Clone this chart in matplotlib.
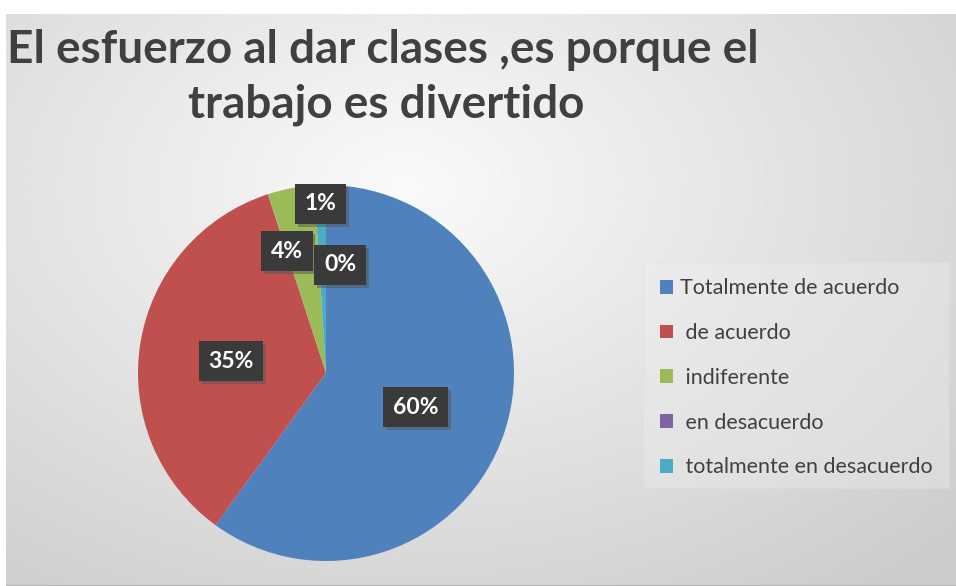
import numpy as np
import matplotlib
matplotlib.use("Agg")
import matplotlib.pyplot as plt
import matplotlib.patheffects as pe
from matplotlib.patches import Rectangle

plt.rcParams['font.family'] = ['Lato', 'DejaVu Sans']

# datos
categorias = ['Totalmente de acuerdo', ' de acuerdo', ' indiferente',
              ' en desacuerdo', ' totalmente en desacuerdo']
valores = [60, 35, 4, 0, 1]
etiquetas = ['60%', '35%', '4%', '0%', '1%']
colores = ['#4f81bd', '#c0504d', '#9bbb59', '#8064a2', '#4bacc6']

W, H = 956, 586
fig = plt.figure(figsize=(W / 100, H / 100), dpi=100)
fig.patch.set_facecolor('white')

# fondo con degradado radial
bg = fig.add_axes([6 / W, 0, 1 - 6 / W, (H - 14) / H])
yy, xx = np.mgrid[0:1:300j, 0:1:500j]
d = np.sqrt(((xx - 0.42) / 0.8) ** 2 + ((yy - 0.30) / 0.9) ** 2)
g = 0.98 - 0.18 * np.clip(d, 0, 1)
bg.imshow(g, cmap='gray', vmin=0, vmax=1, aspect='auto', extent=[0, 1, 1, 0])
bg.axhline(1, color='#b4b4b4', lw=1.5)
bg.set_xlim(0, 1)
bg.set_ylim(1, 0)
bg.axis('off')

# titulo
fig.text(383 / W, 1 - 63 / H, 'El esfuerzo al dar clases ,es porque el',
         ha='center', va='baseline', fontsize=33, fontweight='bold', color='#404040')
fig.text(386 / W, 1 - 118 / H, 'trabajo es divertido',
         ha='center', va='baseline', fontsize=33, fontweight='bold', color='#404040')

# pastel
cx, cy, r = 326, 373, 188
ax = fig.add_axes([(cx - r) / W, (H - cy - r) / H, 2 * r / W, 2 * r / H])
wedges, _ = ax.pie(valores, colors=colores, startangle=90, counterclock=False,
                   radius=1, wedgeprops=dict(linewidth=0))
ax.set_xlim(-1, 1)
ax.set_ylim(-1, 1)
ax.set_aspect('equal')

# posicion de las etiquetas: (distancia radial, desplazamiento angular)
ajustes = [(0.51, -3), (0.51, 2), (0.68, 7), (0.58, -11), (0.90, 0)]
for w, txt, (dist, dang) in zip(wedges, etiquetas, ajustes):
    ang = np.deg2rad((w.theta1 + w.theta2) / 2 + dang)
    t = ax.text(dist * np.cos(ang), dist * np.sin(ang), txt, ha='center', va='center',
                fontsize=16.5, fontweight='bold', color='white',
                bbox=dict(boxstyle='square,pad=0.42', fc='#3a3a3a', ec='none'))
    t.get_bbox_patch().set_path_effects([
        pe.SimplePatchShadow(offset=(2, -2), shadow_rgbFace='#555555', alpha=0.5),
        pe.Normal()])

# leyenda
fig.patches.append(Rectangle((643 / W, 1 - 488 / H), 306 / W, 226 / H,
                             transform=fig.transFigure, fc='#f0f0f0', ec='#dcdcdc',
                             lw=0.8, alpha=0.35, zorder=0.5))
leg = fig.legend(wedges, categorias, loc='upper left',
                 bbox_to_anchor=(641 / W, 1 - 259 / H), frameon=False,
                 handlelength=0.6, handleheight=0.6, handletextpad=0.3,
                 labelspacing=1.15, fontsize=15.5, labelcolor='#404040')

fig.savefig('out.png', dpi=100)
